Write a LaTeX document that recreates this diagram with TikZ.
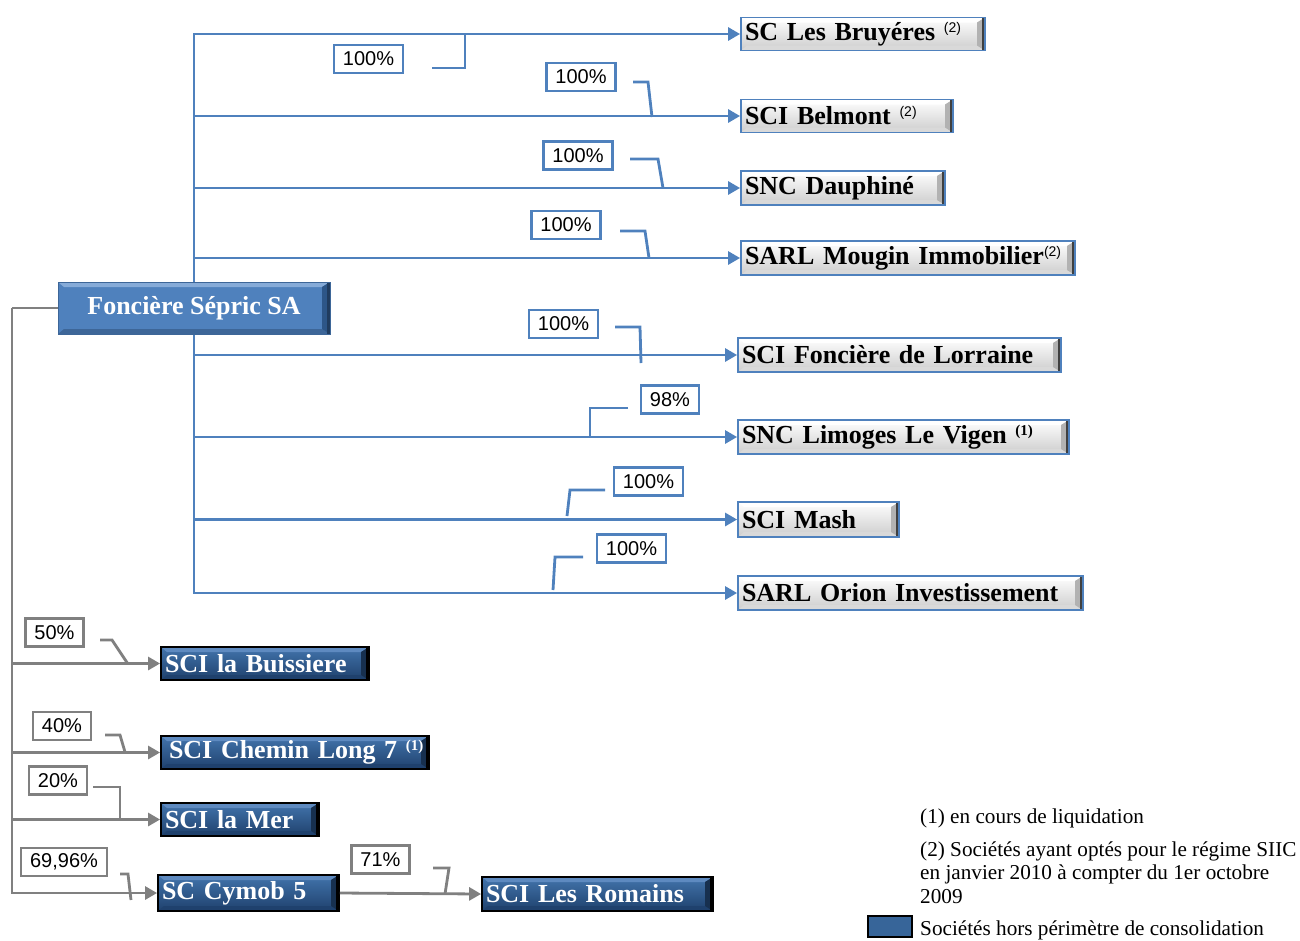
\documentclass[tikz,border=0pt]{standalone}
\usepackage{fontspec}
\setmainfont{Liberation Serif}
\newfontfamily\arial{Liberation Sans}
\usetikzlibrary{arrows.meta,calc}
\definecolor{bl}{HTML}{4F81BD}
\definecolor{gl}{HTML}{808080}
\definecolor{dkA}{HTML}{4274AC}
\definecolor{dkB}{HTML}{1F416D}
\definecolor{dkR}{HTML}{17304F}
\definecolor{dkT}{HTML}{5E8AC0}
\definecolor{fnR}{HTML}{2D5688}
\definecolor{fnB}{HTML}{3D6698}
\definecolor{fnT}{HTML}{86ABD8}
\newcommand{\supA}[1]{\raisebox{8pt}{\arial\mdseries\fontsize{14}{14}\selectfont#1}}
\newcommand{\supB}[1]{\raisebox{8pt}{\fontsize{15}{15}\selectfont#1}}
\tikzset{
  bevel/.style n args={4}{path picture={
    \fill[#3] (path picture bounding box.north west) -- (path picture bounding box.north east)
      -- ([xshift=-8pt,yshift=-5pt]path picture bounding box.north east)
      -- ([xshift=6pt,yshift=-5pt]path picture bounding box.north west) -- cycle;
    \fill[#2] (path picture bounding box.south west) -- (path picture bounding box.south east)
      -- ([xshift=-8pt,yshift=5pt]path picture bounding box.south east)
      -- ([xshift=6pt,yshift=5pt]path picture bounding box.south west) -- cycle;
    \fill[#1] (path picture bounding box.north east) -- (path picture bounding box.south east)
      -- ([xshift=-8pt,yshift=5pt]path picture bounding box.south east)
      -- ([xshift=-8pt,yshift=-5pt]path picture bounding box.north east) -- cycle;
    \fill[#4] ([xshift=-3pt]path picture bounding box.north east) rectangle (path picture bounding box.south east);
  }},
  gbox/.style={draw=bl, line width=1.8pt, top color=white, bottom color=gray!40,
    bevel={gray!60}{gray!30}{white}{black!75}, inner xsep=4pt, inner ysep=0pt, align=left,
    font=\bfseries\fontsize{26}{28}\selectfont, text=black},
  dbox/.style={draw=black, line width=1.8pt, top color=dkA, bottom color=dkB,
    bevel={dkR}{dkB}{dkT}{black}, inner xsep=4pt, inner ysep=0pt, align=left,
    font=\bfseries\fontsize{26}{28}\selectfont, text=white},
  fbox/.style={draw=fnB, line width=1pt, fill=bl,
    bevel={fnR}{fnB}{fnT}{fnR!70!black}, inner sep=0pt, align=center,
    font=\bfseries\fontsize{26}{28}\selectfont, text=white},
  pb/.style={draw=bl, line width=2.4pt, fill=white, inner xsep=9pt, inner ysep=0pt,
    minimum height=28pt, font=\arial\fontsize{20}{20}\selectfont},
  pg/.style={pb, draw=gl},
  bline/.style={draw=bl, line width=2.8pt},
  gline/.style={draw=gl, line width=2.8pt},
  barrow/.style={bline, -{Triangle[length=12pt,width=13pt]}},
  garrow/.style={gline, -{Triangle[length=12pt,width=13pt]}},
  leg/.style={anchor=base west, inner sep=0pt, font=\fontsize{21.2}{23.5}\selectfont}
}
\begin{document}
\begin{tikzpicture}[x=1pt,y=-1pt]
\useasboundingbox (0,0) rectangle (1300,940);
% main company
\node[fbox, minimum width=272pt, minimum height=52pt] (fon) at (194,308) {Foncière Sépric SA};
% gray boxes
\node[gbox, minimum height=33pt, text width=236pt] (bru) at (863,34) {SC Les Bruyéres \supA{(2)}};
\node[gbox, minimum height=33pt, text width=204pt] (bel) at (847,116) {SCI Belmont \supA{(2)}};
\node[gbox, minimum height=34pt, text width=196pt] (dau) at (843,188) {SNC Dauphiné};
\node[gbox, minimum height=34pt, text width=326pt] (mou) at (908,258) {SARL Mougin Immobilier\supA{(2)}};
\node[gbox, minimum height=34pt, text width=315pt] (lor) at (899.5,355) {SCI Foncière de Lorraine};
\node[gbox, minimum height=34pt, text width=323pt] (lim) at (903.5,437) {SNC Limoges Le Vigen \supB{(1)}};
\node[gbox, minimum height=35pt, text width=153pt] (mas) at (818.5,519.5) {SCI Mash};
\node[gbox, minimum height=34pt, text width=337pt] (ori) at (910.5,593) {SARL Orion Investissement};
% dark boxes
\node[dbox, minimum height=33pt, text width=200pt] (bui) at (265,663.5) {SCI la Buissiere};
\node[dbox, minimum height=33pt, text width=260pt] (che) at (295,752.5) {\hspace{4pt}SCI Chemin Long 7 \supB{(1)}};
\node[dbox, minimum height=33pt, text width=150pt] (mer) at (240,819.5) {SCI la Mer};
\node[dbox, minimum height=36pt, text width=173pt] (cym) at (248.5,893) {SC Cymob 5};
\node[dbox, minimum height=34pt, text width=223pt] (rom) at (597.5,894) {SCI Les Romains};
% blue connectors
\draw[barrow] (fon.north) |- (bru.west);
\draw[barrow] (fon.north) |- (bel.west);
\draw[barrow] (fon.north) |- (dau.west);
\draw[barrow] (fon.north) |- (mou.west);
\draw[barrow] (fon.south) |- (lor.west);
\draw[barrow] (fon.south) |- (lim.west);
\draw[barrow] (fon.south) |- (mas.west);
\draw[barrow] (fon.south) |- (ori.west);
% gray connectors
\coordinate (gt) at (12,308);
\draw[gline] (fon.west) -- (gt);
\draw[garrow] (gt) |- (bui.west);
\draw[garrow] (gt) |- (che.west);
\draw[garrow] (gt) |- (mer.west);
\draw[garrow] (gt) |- (cym.west);
\draw[garrow] (cym.east) -- (rom.west);
% percentage labels
\node[pb] (p1) at (368.5,59) {100\%};
\node[pb] (p2) at (581,77) {100\%};
\node[pb] (p3) at (578,155.5) {100\%};
\node[pb] (p4) at (566,225) {100\%};
\node[pb] (p5) at (563.5,324) {100\%};
\node[pb] (p6) at (670,399.5) {98\%};
\node[pb] (p7) at (648.5,481.5) {100\%};
\node[pb] (p8) at (631.5,548.5) {100\%};
\node[pg] (p9) at (54.5,632.5) {50\%};
\node[pg] (p10) at (62,726) {40\%};
\node[pg] (p11) at (58,780.5) {20\%};
\node[pg] (p12) at (64,862) {69,96\%};
\node[pg] (p13) at (380.5,859.5) {71\%};
% leaders
\draw[bline] (432,68) -- (465,68) -- (465,35);
\draw[bline] (633,82) -- (648,82) -- (652,117);
\draw[bline] (630,159) -- (658,159) -- (663,188);
\draw[bline] (620,231) -- (645,231) -- (649,258);
\draw[bline] (615,327) -- (640,327) -- (641,363);
\draw[bline] (628,408) -- (590,408) -- (590,438);
\draw[bline] (605,490) -- (570,490) -- (567,516);
\draw[bline] (583,557) -- (555,557) -- (553,590);
\draw[gline] (100,640) -- (112,640) -- (128,664);
\draw[gline] (105,735) -- (120,735) -- (125,752);
\draw[gline] (93,787) -- (120,787) -- (120,820);
\draw[gline] (120,874) -- (128,874) -- (131,900);
\draw[gline] (433,868) -- (449,868) -- (445,894);
% legend
\node[leg] (l1) at (920,823) {(1) en cours de liquidation};
\node[leg] (l2) at (920,856) {(2) Sociétés ayant optés pour le régime SIIC};
\node[leg] (l3) at (920,879.5) {en janvier 2010 à compter du 1er octobre};
\node[leg] (l4) at (920,903) {2009};
\node[draw=black, line width=2pt, fill=dkA!70!dkB, minimum width=44pt, minimum height=21pt, inner sep=0pt] (lb) at (890,926) {};
\node[leg] (l5) at (920,935) {Sociétés hors périmètre de consolidation};
\end{tikzpicture}
\end{document}
